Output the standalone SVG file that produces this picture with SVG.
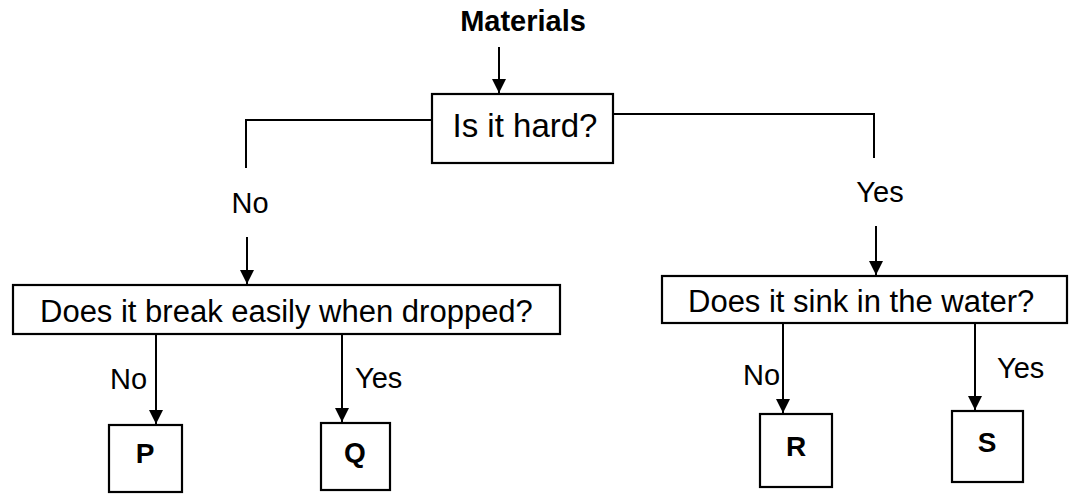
<svg xmlns="http://www.w3.org/2000/svg" width="1070" height="495" viewBox="0 0 1070 495">
<style>
.box{fill:#fff;stroke:#000;stroke-width:2.2}
.ln{fill:none;stroke:#000;stroke-width:2}
.t{font-family:"Liberation Sans",Arial,sans-serif;fill:#000}
.q{font-size:31px}
.lb{font-size:29px}
.b{font-weight:bold}
</style>
<defs>
<marker id="ah" markerUnits="userSpaceOnUse" markerWidth="14" markerHeight="16" refX="14" refY="7" orient="auto">
<path d="M0,0 L14,7 L0,14 Z" fill="#000"/>
</marker>
</defs>
<g id="materials"><text class="t b" x="523" y="31" font-size="29" text-anchor="middle">Materials</text></g>
<g id="connectors">
<line class="ln" x1="499" y1="47" x2="499" y2="93" marker-end="url(#ah)"/>
<polyline class="ln" points="432,120 246,120 246,168"/>
<polyline class="ln" points="613,114 874,114 874,158"/>
<line class="ln" x1="247" y1="237" x2="247" y2="284" marker-end="url(#ah)"/>
<line class="ln" x1="876" y1="226" x2="876" y2="275" marker-end="url(#ah)"/>
<line class="ln" x1="156" y1="334" x2="156" y2="424" marker-end="url(#ah)"/>
<line class="ln" x1="342" y1="334" x2="342" y2="422" marker-end="url(#ah)"/>
<line class="ln" x1="783" y1="323" x2="783" y2="413" marker-end="url(#ah)"/>
<line class="ln" x1="975" y1="323" x2="975" y2="410" marker-end="url(#ah)"/>
<text class="t lb" x="250" y="213" text-anchor="middle">No</text>
<text class="t lb" x="880" y="202" text-anchor="middle">Yes</text>
<text class="t lb" x="110" y="389">No</text>
<text class="t lb" x="355" y="388">Yes</text>
<text class="t lb" x="743" y="385">No</text>
<text class="t lb" x="997" y="378">Yes</text>
</g>
<g id="hard">
<rect class="box" x="432" y="94" width="181" height="69"/>
<text class="t" x="525" y="137" font-size="33" text-anchor="middle">Is it hard?</text>
</g>
<g id="break">
<rect class="box" x="13" y="285" width="547" height="49"/>
<text class="t q" x="40" y="322">Does it break easily when dropped?</text>
</g>
<g id="sink">
<rect class="box" x="662" y="276" width="405" height="47"/>
<text class="t q" x="688" y="312">Does it sink in the water?</text>
</g>
<g id="P"><rect class="box" x="109" y="425" width="73" height="67"/><text class="t b" x="145" y="463" font-size="28" text-anchor="middle">P</text></g>
<g id="Q"><rect class="box" x="321" y="423" width="69" height="67"/><text class="t b" x="355" y="462" font-size="28" text-anchor="middle">Q</text></g>
<g id="R"><rect class="box" x="760" y="414" width="72" height="73"/><text class="t b" x="796" y="456" font-size="28" text-anchor="middle">R</text></g>
<g id="S"><rect class="box" x="952" y="411" width="71" height="71"/><text class="t b" x="987" y="452" font-size="28" text-anchor="middle">S</text></g>
</svg>
